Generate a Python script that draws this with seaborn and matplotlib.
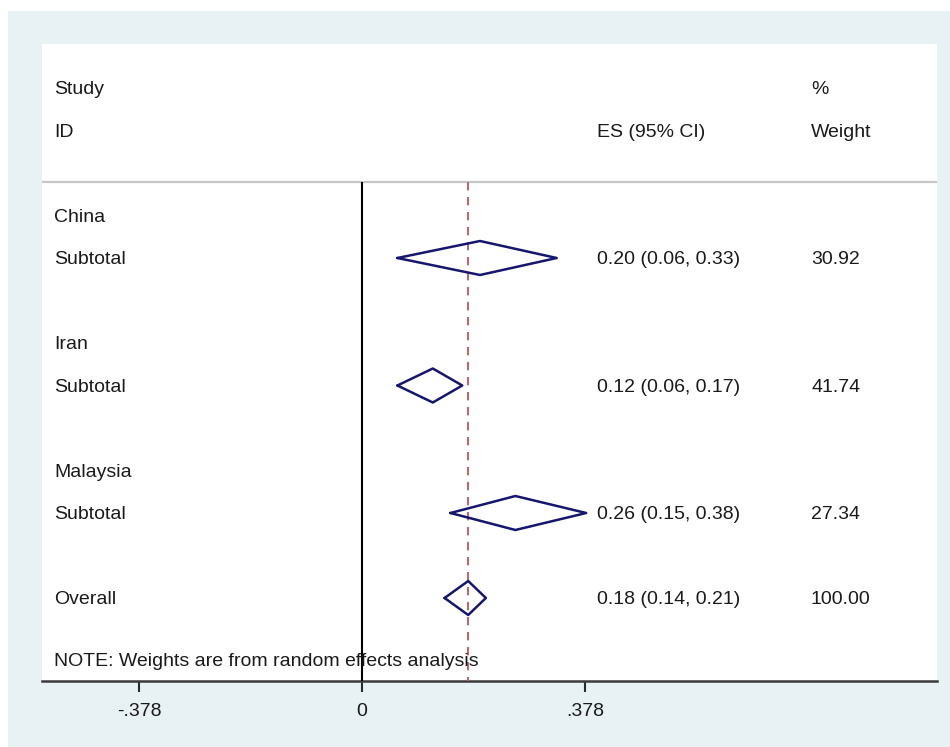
import numpy as np
import pandas as pd
import matplotlib
matplotlib.use("Agg")
import matplotlib.pyplot as plt
import matplotlib.patches as mpatches
import seaborn as sns

# Pooled estimates by country (random effects)
groups = ["China", "Iran", "Malaysia"]
es = [0.20, 0.12, 0.26]
ci_lo = [0.06, 0.06, 0.15]
ci_hi = [0.33, 0.17, 0.38]
weights = [30.92, 41.74, 27.34]

overall_es = 0.18
overall_lo = 0.14
overall_hi = 0.21
overall_weight = 100.00

tick_values = [-0.378, 0.0, 0.378]
tick_labels = ["-.378", "0", ".378"]

sns.set_theme(style="white")
plt.rcParams["font.family"] = ["Liberation Sans", "DejaVu Sans"]

W, H = 950, 747
fig = plt.figure(figsize=(W / 100, H / 100), dpi=100)
fig.patch.set_facecolor("white")
fig.patches.append(mpatches.Rectangle((8 / W, 0), 1 - 8 / W, (H - 11) / H,
                                      transform=fig.transFigure,
                                      facecolor="#e8f1f3", edgecolor="none",
                                      zorder=-10))

left, right, top, bottom = 42, 937, 44, 681
ax = fig.add_axes([left / W, (H - bottom) / H, (right - left) / W, (bottom - top) / H])
ax.set_facecolor("white")

row_px = 42.5
row0_px = 88
y_top = (top - row0_px) / row_px
y_bot = (bottom - row0_px) / row_px
ax.set_ylim(y_bot, y_top)
x_per_px = 0.378 / 223.0
ax.set_xlim((left - 362) * x_per_px, (right - 362) * x_per_px)

header_line = (182 - row0_px) / row_px
navy = "#16166e"
txt = "#1a1a1a"
fs = 14

# Summary diamonds
half_h = 0.4
rows_sub = [4 + 3 * i for i in range(len(groups))]
recs = []
all_es = es + [overall_es]
all_lo = ci_lo + [overall_lo]
all_hi = ci_hi + [overall_hi]
all_rows = rows_sub + [12]
for k, (e, lo, hi, r) in enumerate(zip(all_es, all_lo, all_hi, all_rows)):
    pts = [(lo, r), (e, r - half_h), (hi, r), (e, r + half_h), (lo, r)]
    for j, (px, py) in enumerate(pts):
        recs.append({"id": k, "order": j, "x": px, "y": py})
df = pd.DataFrame(recs)
sns.lineplot(data=df, x="x", y="y", units="id", estimator=None, sort=False,
             color=navy, lw=1.8, ax=ax, legend=False, zorder=4)

# Reference lines
ax.vlines(0, header_line, y_bot, color="black", lw=1.5, zorder=3)
ax.vlines(overall_es, header_line, y_bot, color="#b86a6e", lw=1.5,
          linestyles=(0, (4, 3.2)), zorder=3)
ax.axhline(header_line, color="#c6c6c6", lw=1.6, zorder=2)

# Text columns
tr = ax.get_yaxis_transform()
x_lab = (54 - left) / (right - left)
x_es = (597 - left) / (right - left)
x_wt = (811 - left) / (right - left)
base = 0.145

def put(xf, row, s):
    ax.text(xf, row + base, s, transform=tr, ha="left", va="baseline",
            fontsize=fs, color=txt)

put(x_lab, 0, "Study")
put(x_lab, 1, "ID")
put(x_es, 1, "ES (95% CI)")
put(x_wt, 0, "%")
put(x_wt, 1, "Weight")

for i, g in enumerate(groups):
    put(x_lab, 3 + 3 * i, g)
    put(x_lab, rows_sub[i], "Subtotal")
    put(x_es, rows_sub[i], f"{es[i]:.2f} ({ci_lo[i]:.2f}, {ci_hi[i]:.2f})")
    put(x_wt, rows_sub[i], f"{weights[i]:.2f}")

put(x_lab, 12, "Overall")
put(x_es, 12, f"{overall_es:.2f} ({overall_lo:.2f}, {overall_hi:.2f})")
put(x_wt, 12, f"{overall_weight:.2f}")
put(x_lab, (660 - row0_px) / row_px, "NOTE: Weights are from random effects analysis")

# Axis styling
for s in ["top", "left", "right"]:
    ax.spines[s].set_visible(False)
ax.spines["bottom"].set_color("#3a3a3a")
ax.spines["bottom"].set_linewidth(1.8)
ax.set_yticks([])
ax.set_xticks(tick_values)
ax.set_xticklabels(tick_labels)
ax.tick_params(axis="x", bottom=True, length=8, width=1.5, color="#2a2a2a",
               labelsize=fs, labelcolor=txt, pad=8)
ax.set_xlabel("")
ax.set_ylabel("")

fig.savefig("out.png", dpi=100)
